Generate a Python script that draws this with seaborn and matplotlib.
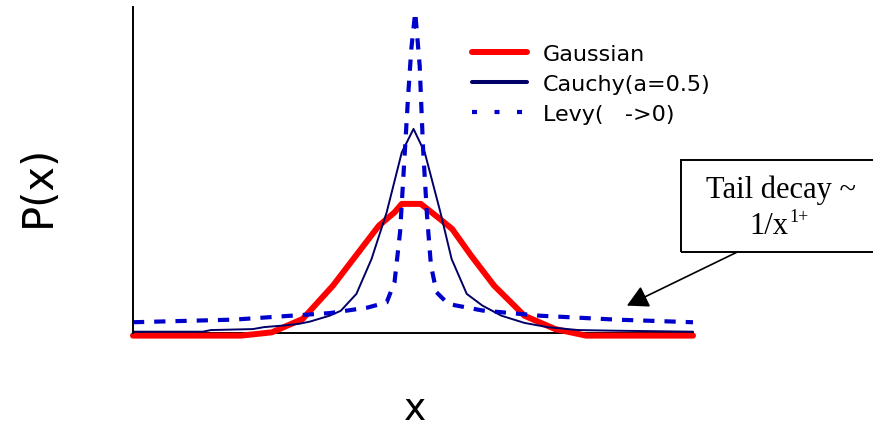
import numpy as np
import matplotlib
matplotlib.use("Agg")
import matplotlib.pyplot as plt
import seaborn as sns
from matplotlib.lines import Line2D
from matplotlib.patches import Rectangle

# -------------------------------
# DATA (arbitrary units)
# -------------------------------
gauss_x = [-5.0, -3.07, -2.52, -1.97, -1.43, -1.02, -0.61, -0.33, -0.20,
           0.14, 0.48, 0.70, 1.04, 1.45, 1.99, 2.54, 3.09, 5.0]
gauss_y = [-0.008, -0.008, 0.002, 0.043, 0.145, 0.237, 0.329, 0.370, 0.396,
           0.396, 0.350, 0.319, 0.237, 0.145, 0.053, 0.012, -0.008, -0.008]

cauchy_x = [-5.0, -3.75, -3.61, -2.86, -2.66, -2.31, -2.04, -1.84, -1.49, -1.29,
            -1.01, -0.74, -0.47, -0.20, 0.01, 0.21, 0.49, 0.69, 0.96, 1.24,
            1.58, 1.99, 2.40, 2.95, 3.63, 5.0]
cauchy_y = [0.004, 0.004, 0.009, 0.012, 0.018, 0.023, 0.028, 0.035, 0.053, 0.068,
            0.120, 0.227, 0.370, 0.554, 0.626, 0.554, 0.370, 0.227, 0.120, 0.084,
            0.053, 0.031, 0.018, 0.009, 0.007, 0.004]

levy_x = [-5.0, -3.20, -2.18, -1.49, -0.81, -0.47, -0.33, -0.23, -0.16, -0.09,
          -0.03, 0.04, 0.12, 0.18, 0.25, 0.32, 0.42, 0.63, 1.24, 2.27, 3.63, 5.0]
levy_y = [0.033, 0.041, 0.053, 0.061, 0.078, 0.094, 0.155, 0.310, 0.513, 0.718,
          0.871, 0.984, 0.820, 0.567, 0.362, 0.209, 0.125, 0.089, 0.069, 0.053,
          0.041, 0.033]

labels = ["Gaussian", "Cauchy(a=0.5)", "Levy(   ->0)"]
colors = ["#FF0000", "#000066", "#0000CC"]

sns.set_style("white")
plt.rcParams["font.family"] = ["DejaVu Sans"]
plt.rcParams["text.color"] = "black"
plt.rcParams["axes.labelcolor"] = "black"

fig = plt.figure(figsize=(8.73, 4.27), dpi=100)
ax = fig.add_axes([0.1523, 0.2178, 0.6415, 0.7635])

sns.lineplot(x=gauss_x, y=gauss_y, ax=ax, color=colors[0], lw=4.3, clip_on=False)
sns.lineplot(x=cauchy_x, y=cauchy_y, ax=ax, color=colors[1], lw=1.4, clip_on=False)
sns.lineplot(x=levy_x, y=levy_y, ax=ax, color=colors[2], lw=3.0,
             linestyle=(0, (2.7, 2.4)), clip_on=False)

ax.set_xlim(-5, 5)
ax.set_ylim(0, 1)
ax.set_xticks([])
ax.set_yticks([])
sns.despine(ax=ax)
for s in ["left", "bottom"]:
    ax.spines[s].set_color("black")
    ax.spines[s].set_linewidth(1.4)
ax.spines["bottom"].set_zorder(1)

ax.set_ylabel("P(x)", fontsize=30, va="center")
ax.yaxis.set_label_coords(-0.170, 0.455)
ax.set_xlabel("x", fontsize=27, va="center")
ax.xaxis.set_label_coords(0.504, -0.232)

handles = [
    Line2D([], [], color=colors[0], lw=4.3),
    Line2D([], [], color=colors[1], lw=2.9),
    Line2D([], [], color=colors[2], lw=3.0, linestyle=(0, (1.2, 4.2))),
]
ax.legend(handles, labels, loc="upper left", bbox_to_anchor=(472 / 873, 0.895),
          bbox_transform=fig.transFigure, frameon=False, fontsize=16,
          handlelength=2.47, handletextpad=0.72, labelspacing=0.45,
          borderpad=0, borderaxespad=0)

# annotation box
box = Rectangle((680.7 / 873, (427 - 252.7) / 427), 0.26, 92 / 427,
                transform=fig.transFigure, fill=False, ec="black", lw=1.4,
                clip_on=False)
fig.patches.append(box)
fig.text(781 / 873, (427 - 198) / 427, "Tail decay ~", ha="center", va="baseline",
         fontsize=22, family="Liberation Serif")
fig.text(788 / 873, (427 - 234) / 427, "1/x", ha="right", va="baseline",
         fontsize=22, family="Liberation Serif")
fig.text(789 / 873, (427 - 222) / 427, "1+", ha="left", va="baseline",
         fontsize=13, family="Liberation Serif")

ax.annotate("", xy=(3.82, 0.084), xytext=(5.78, 0.2475),
            arrowprops=dict(arrowstyle="-|>,head_length=1.3,head_width=0.7",
                            color="black", lw=1.2, shrinkA=0, shrinkB=0),
            annotation_clip=False)

fig.savefig("out.png", dpi=100)
